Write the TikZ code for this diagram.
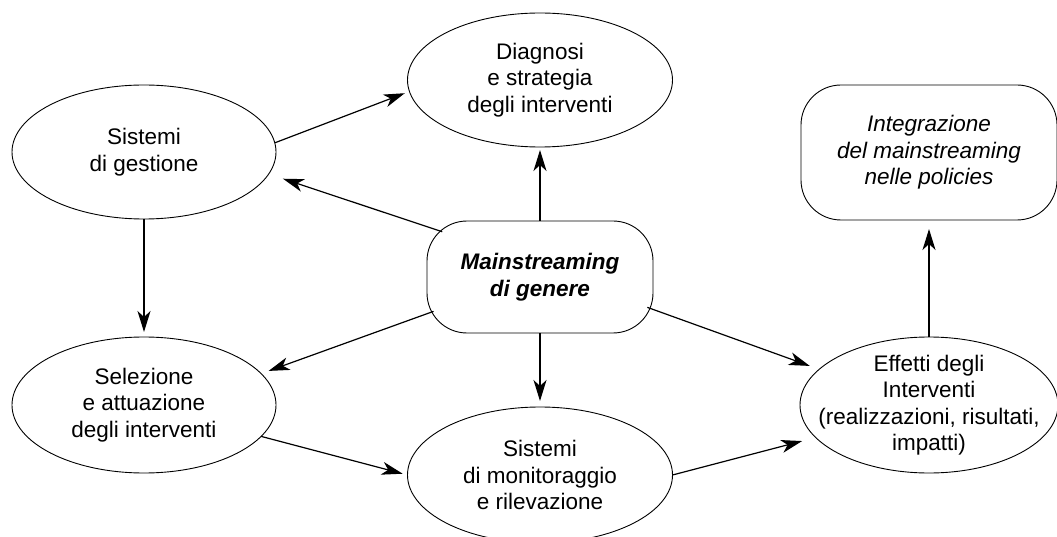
\documentclass[tikz,border=0pt]{standalone}
\usepackage{fontspec}
\setmainfont{Liberation Sans}
\usetikzlibrary{arrows.meta,shapes.geometric}
\begin{document}
\begin{tikzpicture}[x=1pt,y=-1pt,
 shapeline/.style={draw=black, line width=0.9pt, outer sep=0pt, inner sep=0pt},
 ell/.style={shapeline, ellipse},
 rbox/.style={shapeline, rectangle, rounded corners=40pt},
 lbl/.style={align=center, font=\fontsize{22.5}{26.5}\selectfont, inner sep=0pt},
 conn/.style={line width=1.2pt, -{Stealth[length=21pt,width=13pt,inset=6pt]}},
]
\clip (0,0) rectangle (1057,537);
% shapes
\node[ell, minimum width=265pt, minimum height=134pt] (dia) at (540,80) {};
\node[lbl] at (dia.center) {Diagnosi\\e strategia\\degli interventi};
\node[ell, minimum width=264pt, minimum height=134pt] (ges) at (144,152) {};
\node[lbl] at (ges.center) {Sistemi\\di gestione};
\node[ell, minimum width=264pt, minimum height=136pt] (sel) at (144,405) {};
\node[lbl] at (sel.center) {Selezione\\e attuazione\\degli interventi};
\node[ell, minimum width=265pt, minimum height=136pt] (mon) at (540,475) {};
\node[lbl] at (mon.center) {Sistemi\\di monitoraggio\\e rilevazione};
\node[ell, minimum width=258pt, minimum height=136pt] (eff) at (929,405) {};
\node[lbl] at (eff.center) {Effetti degli\\Interventi\\(realizzazioni, risultati,\\impatti)};
\node[rbox, minimum width=226pt, minimum height=112pt] (ms) at (540,277) {};
\node[lbl, font=\fontsize{22.5}{26.5}\selectfont\bfseries\itshape] at (ms.center) {Mainstreaming\\di genere};
\node[rbox, minimum width=256pt, minimum height=135pt] (int) at (929,152.5) {};
\node[lbl, font=\fontsize{22.5}{26.5}\selectfont\itshape] at (int.center) {Integrazione\\del mainstreaming\\nelle policies};
% connectors
\draw[conn, shorten >=5pt] (ges.4) -- (dia.185.5);
\draw[conn, shorten <=-16pt, shorten >=15pt] (ms.156.4) -- (ges.-10.2);
\draw[conn, shorten >=3pt] (ms.north) -- (dia.south);
\draw[conn, shorten >=5pt] (ges.south) -- (sel.north);
\draw[conn, shorten <=-7pt, shorten >=8pt] (ms.198.6) -- (sel.15.2);
\draw[conn, shorten >=6pt] (ms.south) -- (mon.north);
\draw[conn, shorten <=-6pt, shorten >=10pt] (ms.-16.8) -- (eff.162.6);
\draw[conn, shorten >=5pt] (sel.-15.8) -- (mon.west);
\draw[conn, shorten >=14pt] (mon.east) -- (eff.196);
\draw[conn, shorten >=9pt] (eff.north) -- (int.south);
\end{tikzpicture}
\end{document}
